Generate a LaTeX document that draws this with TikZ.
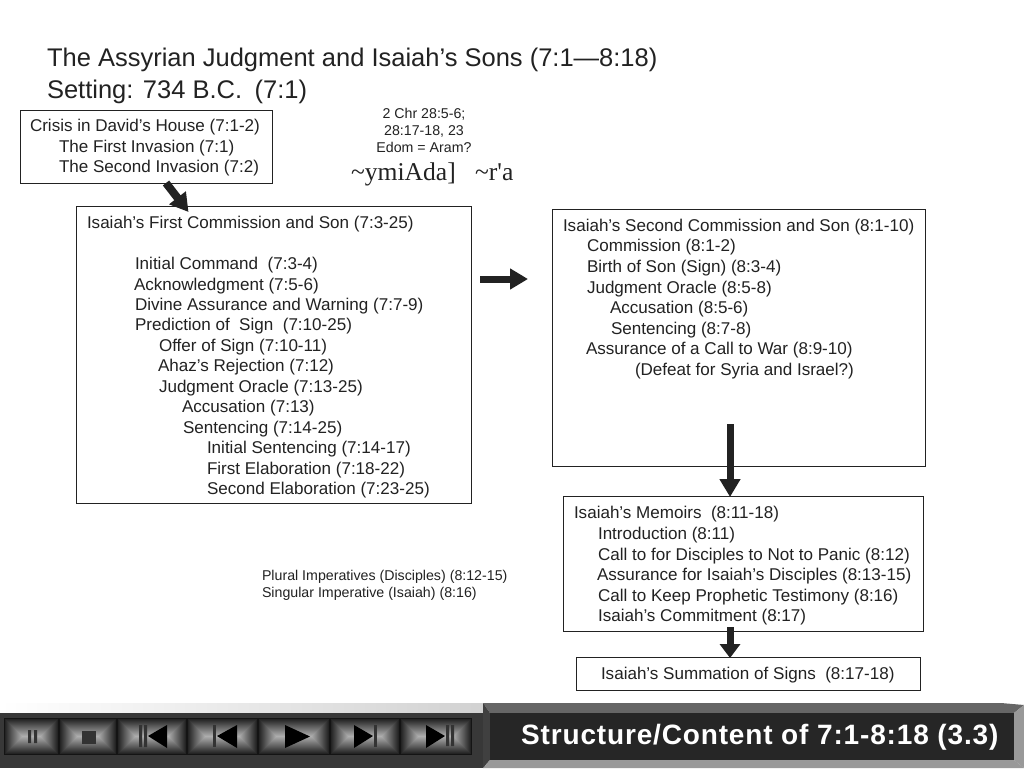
\documentclass[tikz,border=0pt]{standalone}
\usepackage{fontspec}
\setmainfont{Liberation Sans}
\newfontfamily\serifhead{Liberation Serif}
\newfontfamily\barfont[LetterSpace=3.0]{Liberation Sans Bold}
\usetikzlibrary{arrows.meta,calc}
\definecolor{ink}{HTML}{222222}
\tikzset{x=1pt,y=-1pt,
 txt/.style={anchor=base west,inner sep=0pt,outer sep=0pt,text=ink,font=\fontsize{17.05}{19}\selectfont},
 big/.style={txt,font=\fontsize{25.5}{28}\selectfont},
 small/.style={txt,font=\fontsize{14.2}{16}\selectfont},
 mid/.style={txt,anchor=base,font=\fontsize{14.2}{16}\selectfont},
 frame/.style={draw=ink,line width=0.9pt,fill=white,inner sep=0pt,outer sep=0pt},
 block/.style={draw=ink,line width=7pt,-{Triangle[length=18pt,width=20pt]}},
}
\newcommand{\btn}[4]{%
 \fill[black!92] (#1,#2) rectangle (#3,#4);
 \foreach \k in {0,...,17}{%
  \pgfmathsetmacro{\gv}{14+3.2*\k}
  \pgfmathsetmacro{\dd}{1+\k*1.0}
  \fill[white!\gv!black]
   (#1+\dd,#2+\dd) rectangle (#3-\dd,#4-\dd);
 }}
\begin{document}
\begin{tikzpicture}
\useasboundingbox (0,0) rectangle (1024,768);
\fill[white] (0,0) rectangle (1024,768);
% title
\node[big] (t1) at (47,66.5) {The Assyrian Judgment and Isaiah’s Sons (7:1—8:18)};
\node[big] (t2) at (47,98) {Setting: 734 B.C.\hspace{12.5pt}(7:1)};
% boxes
\node[frame,minimum width=252pt,minimum height=73pt] (crisis) at (146,146.5) {};
\node[frame,minimum width=394.5pt,minimum height=297pt] (first) at (273.75,354.5) {};
\node[frame,minimum width=373pt,minimum height=257pt] (second) at (738.5,337.5) {};
\node[frame,minimum width=360pt,minimum height=135pt] (memoirs) at (743,563.5) {};
\node[frame,minimum width=344pt,minimum height=33pt] (summ) at (748,673.5) {};
% crisis text
\node[txt] (c1) at (30,131) {Crisis in David’s House (7:1-2)};
\node[txt] (c2) at (59,152) {The First Invasion (7:1)};
\node[txt] (c3) at (59,172) {The Second Invasion (7:2)};
% references
\node[mid] (r1) at (424,118) {2 Chr 28:5-6;};
\node[mid] (r2) at (424,135) {28:17-18, 23};
\node[mid] (r3) at (424,152) {Edom = Aram?};
\node[txt,font=\serifhead\fontsize{25.6}{28}\selectfont] (heb) at (351,180) {\char`\~ymiAda]\ \ \ \char`\~r'a};
\begin{scope}[yshift=-0.6pt]
% first
\node[txt] (f0) at (87,228) {Isaiah’s First Commission and Son (7:3-25)};
\node[txt] (f1) at (135,268.5) {Initial Command\ \ (7:3-4)};
\node[txt] (f2) at (134,289.5) {Acknowledgment (7:5-6)};
\node[txt] (f3) at (135,309.5) {Divine Assurance and Warning (7:7-9)};
\node[txt] (f4) at (135,330) {Prediction of\ \ Sign\ \ (7:10-25)};
\node[txt] (f5) at (159,350.5) {Offer of Sign (7:10-11)};
\node[txt] (f6) at (158,371) {Ahaz’s Rejection (7:12)};
\node[txt] (f7) at (159,391.5) {Judgment Oracle (7:13-25)};
\node[txt] (f8) at (182,412) {Accusation (7:13)};
\node[txt] (f9) at (183,432.5) {Sentencing (7:14-25)};
\node[txt] (f10) at (207,453) {Initial Sentencing (7:14-17)};
\node[txt] (f11) at (207,473.5) {First Elaboration (7:18-22)};
\node[txt] (f12) at (207,494) {Second Elaboration (7:23-25)};
% second
\node[txt] (s0) at (563,231) {Isaiah’s Second Commission and Son (8:1-10)};
\node[txt] (s1) at (587,251) {Commission (8:1-2)};
\node[txt] (s2) at (587,272) {Birth of Son (Sign) (8:3-4)};
\node[txt] (s3) at (587,292.5) {Judgment Oracle (8:5-8)};
\node[txt] (s4) at (610,313) {Accusation (8:5-6)};
\node[txt] (s5) at (611,333.5) {Sentencing (8:7-8)};
\node[txt] (s6) at (586,354) {Assurance of a Call to War (8:9-10)};
\node[txt] (s7) at (635,374.5) {(Defeat for Syria and Israel?)};
% memoirs
\node[txt] (m0) at (574,518) {Isaiah’s Memoirs\ \ (8:11-18)};
\node[txt] (m1) at (598,539) {Introduction (8:11)};
\node[txt] (m2) at (598,559.5) {Call to for Disciples to Not to Panic (8:12)};
\node[txt] (m3) at (597,580) {Assurance for Isaiah’s Disciples (8:13-15)};
\node[txt] (m4) at (598,600.5) {Call to Keep Prophetic Testimony (8:16)};
\node[txt] (m5) at (598,621) {Isaiah’s Commitment (8:17)};
\node[txt] (sm) at (601,679) {Isaiah’s Summation of Signs\ \ (8:17-18)};
\end{scope}
% plural
\node[small] (p1) at (262,580.5) {Plural Imperatives (Disciples) (8:12-15)};
\node[small] (p2) at (262,597) {Singular Imperative (Isaiah) (8:16)};
% arrows
\coordinate (a1s) at ($(crisis.south west)+(146,0)$);
\coordinate (a1e) at ($(first.north west)+(112,6)$);
\draw[block,line width=8pt] (a1s) -- (a1e);
\coordinate (a2s) at (480,279);
\coordinate (a2e) at (528,279);
\draw[block] (a2s) -- (a2e);
\coordinate (a3s) at ($(second.south west)+(178,-42)$);
\coordinate (a3e) at ($(memoirs.north west)+(167,1)$);
\draw[block] (a3s) -- (a3e);
\coordinate (a4s) at ($(memoirs.south west)+(167,-4)$);
\coordinate (a4e) at ($(summ.north west)+(154,1)$);
\draw[block,-{Triangle[length=14pt,width=20pt]}] (a4s) -- (a4e);
% bottom bar
\shade[left color=white,right color=black!18] (0,703) rectangle (485,713);
\fill[black!78] (0,713) rectangle (485,768);
\btn{4}{718}{59}{755}
\btn{59}{718}{117}{755}
\btn{117}{718}{187}{755}
\btn{187}{718}{258}{755}
\btn{258}{718}{330}{755}
\btn{330}{718}{400}{755}
\btn{400}{718}{472}{755}
\fill[black!80] (28,730) rectangle (31,743) (34,730) rectangle (37,743);
\fill[black!80] (82,731) rectangle (96,744);
\fill[black!80] (139,725) rectangle (142,747) (144,725) rectangle (147,747);
\fill[black] (148,736) -- (167,725) -- (167,748) -- cycle;
\fill[black!80] (213,725) rectangle (216,747);
\fill[black] (217,736) -- (237,725) -- (237,748) -- cycle;
\fill[black] (285,725) -- (310,736.5) -- (285,748) -- cycle;
\fill[black] (354,725) -- (373,736) -- (354,748) -- cycle;
\fill[black!80] (374,725) rectangle (377,747);
\fill[black] (426,725) -- (445,736) -- (426,748) -- cycle;
\fill[black!80] (446,725) rectangle (449,746) (451,725) rectangle (454,746);
% title panel
\fill[black!60] (483,703) -- (1001,703) -- (1024,705) -- (1014,713) -- (490,713) -- cycle;
\fill[black!75] (483,703) -- (490,713) -- (490,760) -- (483,768) -- cycle;
\fill[black!40] (483,768) -- (490,760) -- (1014,760) -- (1024,768) -- cycle;
\fill[black!40] (1024,705) -- (1014,713) -- (1014,760) -- (1024,768) -- cycle;
\fill[black!85] (490,713) rectangle (1014,760);
\node[anchor=base west,inner sep=0pt,text=white,font=\barfont\fontsize{28}{30}\selectfont] (bar) at (521,744.5) {Structure/Content of 7:1-8:18 (3.3)};
\end{tikzpicture}
\end{document}
